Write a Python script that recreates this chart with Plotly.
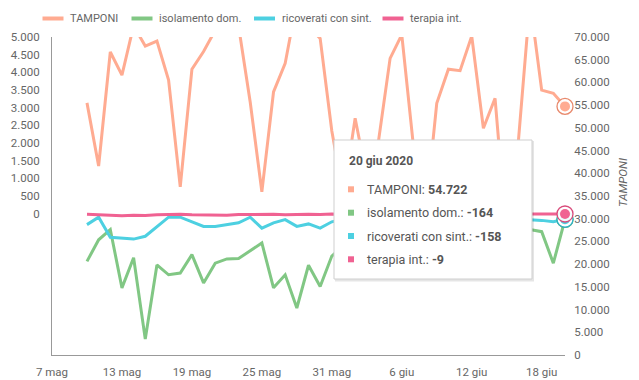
import plotly.graph_objects as go
import pandas as pd

# ---------------- data ----------------
dates = pd.date_range("2020-05-10", "2020-06-20", freq="D")

tamponi = [55500, 41600, 66700, 61600, 72500, 68000, 69100, 60500, 37000, 62900,
           66800, 71500, 75000, 72400, 55700, 35900, 57900, 64200, 77800, 72300,
           69700, 49300, 35000, 52100, 39000, 47000, 65300, 70500, 46000, 30000,
           55400, 62900, 62600, 70200, 49900, 56500, 26000, 47000, 78000, 58300,
           57600, 54722]

isolamento = [-1350, -740, -450, -2100, -1250, -3550, -1450, -1730, -1680, -1160,
              -1960, -1400, -1280, -1270, -1050, -830, -2100, -1730, -2670, -1460,
              -2060, -1200, -900, -1150, -700, -1300, -850, -1000, -600, -1250,
              -950, -1100, -750, -1000, -800, -650, -1100, -550, -450, -510,
              -1400, -164]

ricoverati = [-310, -100, -670, -690, -720, -640, -360, -100, -100, -220,
              -360, -360, -310, -260, -100, -410, -260, -170, -360, -290,
              -410, -230, -150, -280, -200, -320, -250, -180, -140, -300,
              -220, -260, -190, -240, -170, -130, -250, -210, -170, -190,
              -230, -158]

terapia = [-20, -36, -50, -59, -47, -53, -33, -27, -13, -33,
           -41, -32, -45, -23, -20, -12, -20, -32, -16, -16,
           -26, -6, -27, -11, -16, -12, -16, -3, -19, -4,
           -25, -19, -9, -15, -14, -12, -11, -13, -18, -5,
           -20, -9]

series_names = ["TAMPONI", "isolamento dom.", "ricoverati con sint.", "terapia int."]
colors = ["#ffab91", "#81c784", "#4dd0e1", "#f06292"]
ring_colors = ["#e8896c", "#5fa863", "#2fb3c4", "#d84a7a"]

x_tick_vals = ["2020-05-07", "2020-05-13", "2020-05-19", "2020-05-25",
               "2020-05-31", "2020-06-06", "2020-06-12", "2020-06-18"]
x_tick_text = ["7 mag", "13 mag", "19 mag", "25 mag", "31 mag", "6 giu", "12 giu", "18 giu"]

left_tick_vals = list(range(0, 5001, 500))
right_tick_vals = list(range(0, 70001, 5000))

tooltip_title = "20 giu 2020"

# ---------------- helpers ----------------
W, H = 639, 380
L, R, T, B = 52, 565, 37, 355


def px(x):
    return (x - L) / (R - L)


def py(y):
    return (B - y) / (B - T)


def it(v):
    return f"{v:,}".replace(",", ".")


fig = go.Figure()

all_series = [tamponi, isolamento, ricoverati, terapia]
axes = ["y2", "y", "y", "y"]

for name, vals, col, ax in zip(series_names, all_series, colors, axes):
    fig.add_trace(go.Scatter(x=dates, y=vals, name=name, mode="lines",
                             line=dict(color=col, width=3), yaxis=ax,
                             hoverinfo="skip", showlegend=False))

# hover-state markers on the last point
for name, vals, col, rc, ax in zip(series_names, all_series, colors, ring_colors, axes):
    fig.add_trace(go.Scatter(x=[dates[-1]], y=[vals[-1]], mode="markers", yaxis=ax,
                             marker=dict(size=16, color="rgba(255,255,255,0.9)",
                                         line=dict(color=rc, width=1.3)),
                             hoverinfo="skip", showlegend=False, cliponaxis=False))
    fig.add_trace(go.Scatter(x=[dates[-1]], y=[vals[-1]], mode="markers", yaxis=ax,
                             marker=dict(size=10, color=col, line=dict(width=0)),
                             hoverinfo="skip", showlegend=False, cliponaxis=False))

shapes = []
annotations = []

# custom legend
leg_x = [42.5, 131.5, 254, 382.5]
for name, col, lx in zip(series_names, colors, leg_x):
    shapes.append(dict(type="line", xref="paper", yref="paper",
                       x0=px(lx), x1=px(lx + 21), y0=py(18.5), y1=py(18.5),
                       line=dict(color=col, width=4)))
    annotations.append(dict(xref="paper", yref="paper", x=px(lx + 25.5), y=py(18.5),
                            text=name, showarrow=False, xanchor="left", yanchor="middle",
                            font=dict(size=11, color="#666")))

# right axis title
annotations.append(dict(xref="paper", yref="paper", x=px(623), y=py(183),
                        text="<i>TAMPONI</i>", textangle=-90, showarrow=False,
                        xanchor="center", yanchor="middle",
                        font=dict(size=11.5, color="#666")))

# tooltip box
bx0, bx1, by0, by1 = 334, 532, 140, 279
shapes.append(dict(type="rect", xref="paper", yref="paper",
                   x0=px(bx0 + 1), x1=px(bx1 + 2), y0=py(by1 + 2.5), y1=py(by0 + 1),
                   fillcolor="rgba(0,0,0,0.10)", line=dict(width=0), layer="above"))
shapes.append(dict(type="rect", xref="paper", yref="paper",
                   x0=px(bx0), x1=px(bx1), y0=py(by1), y1=py(by0),
                   fillcolor="white", line=dict(color="#cfcfcf", width=1), layer="above"))

annotations.append(dict(xref="paper", yref="paper", x=px(347), y=py(161),
                        text=f"<b>{tooltip_title}</b>", showarrow=False,
                        xanchor="left", yanchor="middle",
                        font=dict(size=12, color="#555")))
item_y = [189.3, 212.7, 236, 259.3]
for name, vals, col, iy in zip(series_names, all_series, colors, item_y):
    shapes.append(dict(type="rect", xref="paper", yref="paper",
                       x0=px(348), x1=px(354), y0=py(iy + 3), y1=py(iy - 3),
                       fillcolor=col, line=dict(width=0), layer="above"))
    annotations.append(dict(xref="paper", yref="paper", x=px(365), y=py(iy),
                            text=f"{name}: <b>{it(vals[-1])}</b>", showarrow=False,
                            xanchor="left", yanchor="middle",
                            font=dict(size=12.5, color="#555")))

fig.update_layout(
    width=W, height=H,
    margin=dict(l=L, r=W - R, t=T, b=H - B, autoexpand=False),
    paper_bgcolor="white", plot_bgcolor="white",
    font=dict(family="Roboto, sans-serif", size=11.5, color="#666"),
    separators=",.",
    showlegend=False,
    hovermode=False,
    shapes=shapes,
    annotations=annotations,
    xaxis=dict(type="date", range=["2020-05-07", "2020-06-20"],
               tickvals=x_tick_vals, ticktext=x_tick_text,
               showgrid=False, zeroline=False, showline=True,
               linecolor="#999", linewidth=1, automargin=False,
               ticks="outside", ticklen=6, tickcolor="rgba(0,0,0,0)",
               tickfont=dict(size=11.5, color="#666")),
    yaxis=dict(range=[-4000, 5000], tickvals=left_tick_vals,
               ticktext=[it(v) for v in left_tick_vals],
               showgrid=False, zeroline=False, showline=True,
               linecolor="#999", linewidth=1, automargin=False,
               ticks="outside", ticklen=9, tickcolor="rgba(0,0,0,0)",
               tickfont=dict(size=11.5, color="#666")),
    yaxis2=dict(range=[0, 70000], tickvals=right_tick_vals,
                ticktext=[it(v) for v in right_tick_vals],
                overlaying="y", side="right", automargin=False,
                showgrid=False, zeroline=False, showline=False,
                ticks="outside", ticklen=6, tickcolor="rgba(0,0,0,0)",
                tickfont=dict(size=11.5, color="#666")),
)

fig.write_html("out.html",
               config={"displayModeBar": False},
               post_script="document.body.style.margin='0';"
                           "document.documentElement.style.overflow='hidden';")
